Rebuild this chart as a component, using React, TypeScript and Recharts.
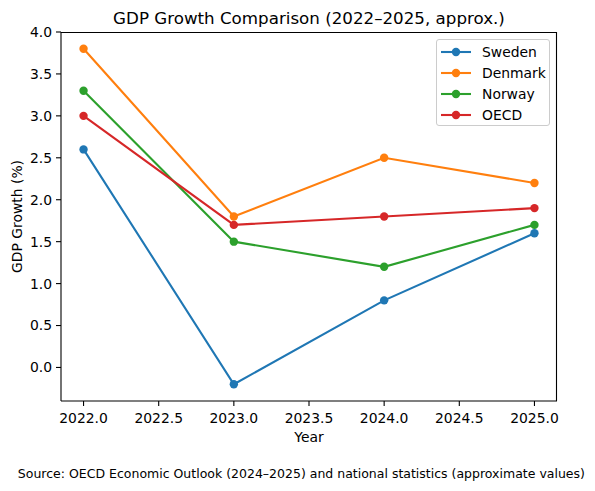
import React from "react";
import { LineChart, Line, XAxis, YAxis, Legend, Label } from "recharts";

const years = [2022, 2023, 2024, 2025];
const sweden = [2.6, -0.2, 0.8, 1.6];
const denmark = [3.8, 1.8, 2.5, 2.2];
const norway = [3.3, 1.5, 1.2, 1.7];
const oecd = [3.0, 1.7, 1.8, 1.9];
const xTicks = [2022, 2022.5, 2023, 2023.5, 2024, 2024.5, 2025];
const yTicks = [0, 0.5, 1, 1.5, 2, 2.5, 3, 3.5, 4];

const seriesList = [
  { key: "Sweden", values: sweden, color: "#1f77b4" },
  { key: "Denmark", values: denmark, color: "#ff7f0e" },
  { key: "Norway", values: norway, color: "#2ca02c" },
  { key: "OECD", values: oecd, color: "#d62728" },
];

const data = years.map((y, i) => {
  const row: Record<string, number> = { year: y };
  seriesList.forEach((s) => {
    row[s.key] = s.values[i];
  });
  return row;
});

const FONT = "DejaVu Sans, sans-serif";
const FS = 13.9;

const LegendBox = () => (
  <div
    style={{
      width: 114,
      height: 87,
      boxSizing: "border-box",
      border: "1px solid #cccccc",
      borderRadius: 3,
      background: "rgba(255,255,255,0.8)",
      position: "relative",
      fontFamily: FONT,
      fontSize: FS,
      color: "#000",
    }}
  >
    {seriesList.map((s, i) => (
      <div
        key={s.key}
        style={{
          position: "absolute",
          left: 0,
          top: 11.7 + i * 21.2 - 10,
          height: 20,
          width: 112,
        }}
      >
        <svg width={40} height={20} style={{ position: "absolute", left: 0, top: 0 }}>
          <line x1={4} x2={34} y1={10} y2={10} stroke={s.color} strokeWidth={2.1} />
          <circle cx={19} cy={10} r={4.2} fill={s.color} />
        </svg>
        <span
          style={{
            position: "absolute",
            left: 45,
            top: 0,
            lineHeight: "20px",
            whiteSpace: "nowrap",
          }}
        >
          {s.key}
        </span>
      </div>
    ))}
  </div>
);

export default function App() {
  return (
    <div
      style={{
        position: "absolute",
        left: 0,
        top: 0,
        width: 595,
        height: 491,
        background: "#fff",
      }}
    >
      <LineChart
        width={595}
        height={491}
        data={data}
        margin={{ top: 32, right: 38, bottom: 0, left: 0 }}
      >
        <XAxis
          dataKey="year"
          type="number"
          domain={[2021.85, 2025.15]}
          ticks={xTicks}
          allowDataOverflow
          height={90}
          tickFormatter={(v: number) => v.toFixed(1)}
          tickSize={5}
          tickMargin={7}
          axisLine={{ stroke: "#000", strokeWidth: 1.1 }}
          tickLine={{ stroke: "#000", strokeWidth: 1.1 }}
          tick={{ fill: "#000", fontSize: FS, fontFamily: FONT }}
        >
          <Label
            content={(props: any) => {
              const vb = props.viewBox || {};
              return (
                <text
                  x={vb.x + vb.width / 2}
                  y={441.7}
                  textAnchor="middle"
                  fill="#000"
                  fontSize={FS}
                  fontFamily={FONT}
                >
                  Year
                </text>
              );
            }}
          />
        </XAxis>
        <YAxis
          type="number"
          domain={[-0.4, 4.0]}
          ticks={yTicks}
          allowDataOverflow
          width={61}
          tickFormatter={(v: number) => v.toFixed(1)}
          tickSize={5}
          tickMargin={4}
          axisLine={{ stroke: "#000", strokeWidth: 1.1 }}
          tickLine={{ stroke: "#000", strokeWidth: 1.1 }}
          tick={{ fill: "#000", fontSize: FS, fontFamily: FONT }}
        >
          <Label
            content={(props: any) => {
              const vb = props.viewBox || {};
              const cy = vb.y + vb.height / 2;
              return (
                <text
                  x={22}
                  y={cy}
                  textAnchor="middle"
                  fill="#000"
                  fontSize={FS}
                  fontFamily={FONT}
                  transform={`rotate(-90, 22, ${cy})`}
                >
                  GDP Growth (%)
                </text>
              );
            }}
          />
        </YAxis>
        <Legend
          layout="horizontal"
          verticalAlign="middle"
          align="center"
          content={() => <LegendBox />}
          wrapperStyle={{ position: "absolute", left: 436, top: 39, width: 114, height: 87 }}
        />
        {seriesList.map((s) => (
          <Line
            key={s.key}
            type="linear"
            dataKey={s.key}
            stroke={s.color}
            strokeWidth={2.1}
            dot={{ r: 4.2, fill: s.color, stroke: s.color, strokeWidth: 0 }}
            activeDot={false}
            isAnimationActive={false}
          />
        ))}
      </LineChart>
      <svg
        width={595}
        height={491}
        style={{ position: "absolute", left: 0, top: 0, pointerEvents: "none" }}
      >
        <line x1={61} x2={557} y1={32.5} y2={32.5} stroke="#000" strokeWidth={1.1} />
        <line x1={556.5} x2={556.5} y1={32} y2={401} stroke="#000" strokeWidth={1.1} />
        <text
          x={309}
          y={23.7}
          textAnchor="middle"
          fill="#000"
          fontSize={16.7}
          fontFamily={FONT}
        >
          GDP Growth Comparison (2022–2025, approx.)
        </text>
        <text
          x={301.4}
          y={478.3}
          textAnchor="middle"
          fill="#000"
          fontSize={12.5}
          fontFamily={FONT}
        >
          Source: OECD Economic Outlook (2024–2025) and national statistics (approximate values)
        </text>
      </svg>
    </div>
  );
}
